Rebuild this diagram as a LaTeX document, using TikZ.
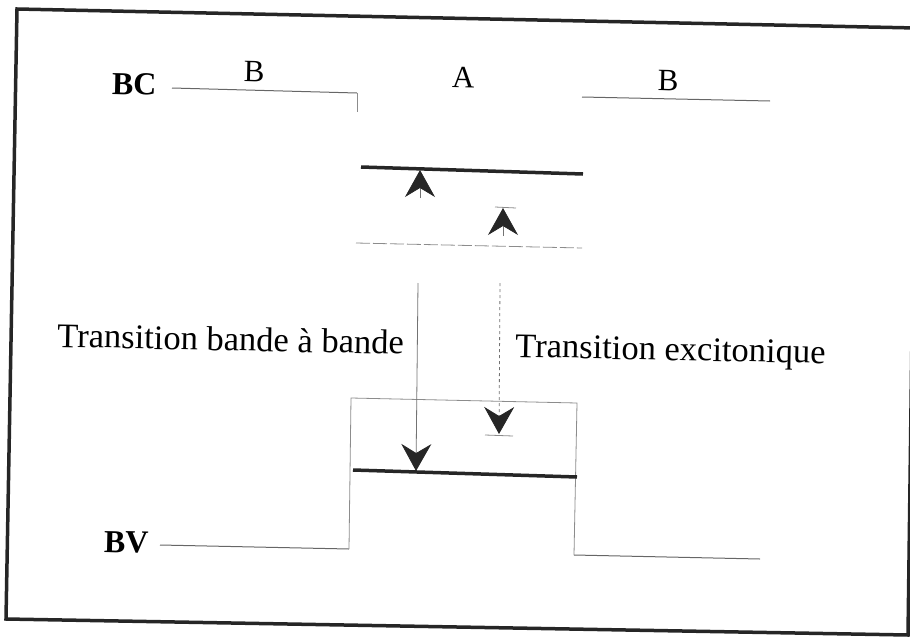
\documentclass[tikz,border=0pt]{standalone}
\usepackage{fontspec}
\setmainfont{Liberation Serif}
\usetikzlibrary{arrows.meta}
\tikzset{
  chev/.tip={Stealth[length=27pt,width=30pt,inset=9pt,color=black!85,fill=black!85]},
  frame/.style={line width=3.5pt,draw=black!85},
  level/.style={line width=1pt,draw=black!60},
  wall/.style={line width=0.8pt,draw=black!45},
  thick level/.style={line width=3.5pt,draw=black!85},
  stem/.style={line width=0.8pt,draw=black!55},
  lbl/.style={font=\fontsize{31}{36}\selectfont,anchor=base,rotate=-1.2,inner sep=0pt},
  blbl/.style={font=\bfseries\fontsize{32}{38}\selectfont,anchor=base,rotate=-1.2,inner sep=0pt},
  txt/.style={font=\fontsize{34.5}{40}\selectfont,anchor=base west,rotate=-1.2,inner sep=0pt},
}
\begin{document}
\begin{tikzpicture}[x=1pt,y=-1pt]
\useasboundingbox (0,0) rectangle (910,637);
\begin{scope}
\clip (0,0) rectangle (910,637);
% frame
\coordinate (f1) at (17,9);
\coordinate (f2) at (916,28);
\coordinate (f3) at (908,635);
\coordinate (f4) at (6,619);
\draw[frame] (f1) -- (f2) -- (f3) -- (f4) -- cycle;
\end{scope}
% conduction band (BC)
\coordinate (bc1) at (172,88);
\coordinate (bc2) at (357,93);
\coordinate (bc3) at (357,112);
\coordinate (bc4) at (582,97);
\coordinate (bc5) at (770,101);
\draw[level] (bc1) -- (bc2);
\draw[wall] (bc2) -- (bc3);
\draw[level] (bc4) -- (bc5);
% electron level in A
\coordinate (e1) at (361,167);
\coordinate (e2) at (583,174);
\draw[thick level] (e1) -- (e2);
% exciton level (dashed)
\coordinate (x1) at (356,243);
\coordinate (x2) at (582,248);
\draw[wall,dash pattern=on 14pt off 3pt] (x1) -- (x2);
% valence band (BV)
\coordinate (bv1) at (160,545);
\coordinate (bv2) at (349,549);
\coordinate (bv3) at (351,398);
\coordinate (bv4) at (577,403);
\coordinate (bv5) at (574,555);
\coordinate (bv6) at (760,559);
\draw[level] (bv1) -- (bv2);
\draw[wall] (bv2) -- (bv3) -- (bv4) -- (bv5);
\draw[level] (bv5) -- (bv6);
% hole level in A
\coordinate (h1) at (353,470);
\coordinate (h2) at (577,477);
\draw[thick level] (h1) -- (h2);
% band-to-band transition
\coordinate (a1) at (420,198);
\coordinate (a2) at (420,170);
\draw[stem,-{chev}] (a1) -- (a2);
\coordinate (a3) at (418,283);
\coordinate (a4) at (416,471);
\draw[stem,-{chev}] (a3) -- (a4);
% excitonic transition
\coordinate (b1) at (503,236);
\coordinate (b2) at (503,208);
\draw[stem,-{chev}] (b1) -- (b2);
\coordinate (t1) at (495,207);
\coordinate (t2) at (516,208);
\draw[wall] (t1) -- (t2);
\coordinate (b3) at (500,283);
\coordinate (b4) at (499,434);
\draw[stem,dashed,-{chev}] (b3) -- (b4);
\coordinate (t3) at (485,435);
\coordinate (t4) at (513,436);
\draw[wall] (t3) -- (t4);
% labels
\node[blbl] (BC) at (134,95) {BC};
\node[blbl] (BV) at (126,553) {BV};
\node[lbl] (B1) at (254,82) {B};
\node[lbl] (A) at (463,88) {A};
\node[lbl] (B2) at (668,91) {B};
\node[txt] (T1) at (57,347) {Transition bande à bande};
\node[txt] (T2) at (515,357) {Transition excitonique};
\end{tikzpicture}
\end{document}
